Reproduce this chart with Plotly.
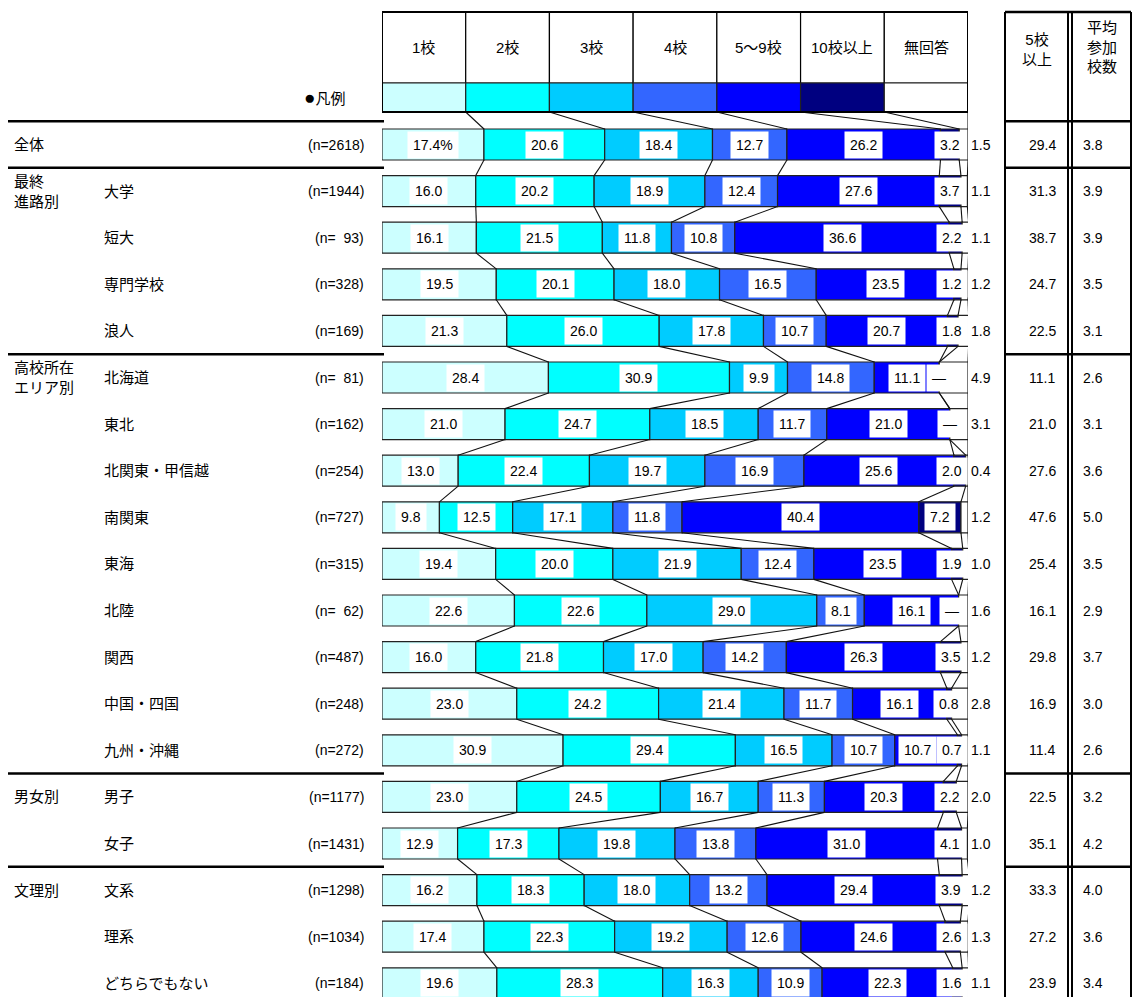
import plotly.graph_objects as go

# ---------------- data ----------------
categories = ["1校", "2校", "3校", "4校", "5～9校", "10校以上", "無回答"]
colors = ["#CCFFFF", "#00FFFF", "#00CCFF", "#3366FF", "#0000FF", "#000080", "#FFFFFF"]

sub_labels = ["", "大学", "短大", "専門学校", "浪人", "北海道", "東北", "北関東・甲信越", "南関東",
              "東海", "北陸", "関西", "中国・四国", "九州・沖縄", "男子", "女子", "文系", "理系", "どちらでもない"]
n_labels = ["(n=2618)", "(n=1944)", "(n=\u00a0\u00a093)", "(n=328)", "(n=169)", "(n=\u00a0\u00a081)", "(n=162)",
            "(n=254)", "(n=727)", "(n=315)", "(n=\u00a0\u00a062)", "(n=487)", "(n=248)", "(n=272)",
            "(n=1177)", "(n=1431)", "(n=1298)", "(n=1034)", "(n=184)"]
group_labels = ["全体", "最終<br>進路別", "高校所在<br>エリア別", "男女別", "文理別"]
group_starts = [0, 1, 5, 14, 16]

v_1 = [17.4, 16.0, 16.1, 19.5, 21.3, 28.4, 21.0, 13.0, 9.8, 19.4, 22.6, 16.0, 23.0, 30.9, 23.0, 12.9, 16.2, 17.4, 19.6]
v_2 = [20.6, 20.2, 21.5, 20.1, 26.0, 30.9, 24.7, 22.4, 12.5, 20.0, 22.6, 21.8, 24.2, 29.4, 24.5, 17.3, 18.3, 22.3, 28.3]
v_3 = [18.4, 18.9, 11.8, 18.0, 17.8, 9.9, 18.5, 19.7, 17.1, 21.9, 29.0, 17.0, 21.4, 16.5, 16.7, 19.8, 18.0, 19.2, 16.3]
v_4 = [12.7, 12.4, 10.8, 16.5, 10.7, 14.8, 11.7, 16.9, 11.8, 12.4, 8.1, 14.2, 11.7, 10.7, 11.3, 13.8, 13.2, 12.6, 10.9]
v_5_9 = [26.2, 27.6, 36.6, 23.5, 20.7, 11.1, 21.0, 25.6, 40.4, 23.5, 16.1, 26.3, 16.1, 10.7, 20.3, 31.0, 29.4, 24.6, 22.3]
v_10 = [3.2, 3.7, 2.2, 1.2, 1.8, 0.0, 0.0, 2.0, 7.2, 1.9, 0.0, 3.5, 0.8, 0.7, 2.2, 4.1, 3.9, 2.6, 1.6]
v_na = [1.5, 1.1, 1.1, 1.2, 1.8, 4.9, 3.1, 0.4, 1.2, 1.0, 1.6, 1.2, 2.8, 1.1, 2.0, 1.0, 1.2, 1.3, 1.1]
series = [v_1, v_2, v_3, v_4, v_5_9, v_10, v_na]

five_plus = [29.4, 31.3, 38.7, 24.7, 22.5, 11.1, 21.0, 27.6, 47.6, 25.4, 16.1, 29.8, 16.9, 11.4, 22.5, 35.1, 33.3, 27.2, 23.9]
avg_count = [3.8, 3.9, 3.9, 3.5, 3.1, 2.6, 3.1, 3.6, 5.0, 3.5, 2.9, 3.7, 3.0, 2.6, 3.2, 4.2, 4.0, 3.6, 3.4]

# ---------------- layout constants ----------------
W, H = 1135, 997
ROW0, PITCH = 144.5, 46.6           # pixel centre of first row, row pitch


def yi(pix):                        # pixel -> row-index coordinate
    return (pix - ROW0) / PITCH


def px(x):                          # pixel -> paper x
    return x / W


XD0, XD1 = px(382), px(968)


def xpaper(v):                      # axis value -> paper x (same mapping as the x axis)
    return XD0 + v / 100.0 * (XD1 - XD0)


BAR_W = 0.665
HEAD_TOP, HEAD_MID, HEAD_BOT = yi(12), yi(83), yi(112)
Y_BOTTOM = yi(H)
FONT = "Liberation Sans, Noto Sans CJK JP, sans-serif"
NUM = dict(size=14, color="#000")
JP = dict(size=15, color="#000")

nrows = len(sub_labels)
rows = list(range(nrows))
ncat = len(categories)

fig = go.Figure()

# header cells (text row) and legend colour row
cell = 100.0 / ncat
for k, cat in enumerate(categories):
    fig.add_trace(go.Bar(orientation="h", y=[(HEAD_TOP + HEAD_MID) / 2], x=[cell], base=[k * cell],
                         width=HEAD_MID - HEAD_TOP, marker=dict(color="white", line=dict(color="#000", width=1.2)),
                         hoverinfo="skip"))
    fig.add_trace(go.Bar(orientation="h", y=[(HEAD_MID + HEAD_BOT) / 2], x=[cell], base=[k * cell],
                         width=HEAD_BOT - HEAD_MID, marker=dict(color=colors[k], line=dict(color="#222", width=1.2)),
                         hoverinfo="skip"))

# data bars
cums = []
run = [0.0] * nrows
for k, vals in enumerate(series):
    fig.add_trace(go.Bar(orientation="h", y=rows, x=vals, base=list(run), width=BAR_W, name=categories[k],
                         marker=dict(color=colors[k], line=dict(color="#222", width=1.2))))
    run = [r + v for r, v in zip(run, vals)]
    cums.append(list(run))

# connector lines
lx, ly = [], []
for k in range(ncat):
    lx += [(k + 1) * cell, cums[k][0], None]
    ly += [HEAD_BOT, 0 - BAR_W / 2, None]
    for i in range(nrows - 1):
        lx += [cums[k][i], cums[k][i + 1], None]
        ly += [i + BAR_W / 2, i + 1 - BAR_W / 2, None]
fig.add_trace(go.Scatter(x=lx, y=ly, mode="lines", line=dict(color="#111", width=1.1), hoverinfo="skip"))

ann = []


def add(x, y, text, xref="paper", xanchor="center", font=NUM, **kw):
    ann.append(dict(x=x, y=y, xref=xref, yref="y", text=text, showarrow=False, xanchor=xanchor,
                    yanchor="middle", font=font, **kw))


# header texts
for k, cat in enumerate(categories):
    add((k + 0.5) * cell, (HEAD_TOP + HEAD_MID) / 2, cat, xref="x", font=JP)
add(px(302), (HEAD_MID + HEAD_BOT) / 2, "<span style='font-size:19px'>●</span>凡例", xanchor="left", font=JP)

# value labels
for i in rows:
    start = 0.0
    for k, vals in enumerate(series):
        v = vals[i]
        txt = "—" if v == 0 else f"{v:.1f}"
        if i == 0 and k == 0:
            txt += "%"
        if k < 4:
            add(start + v / 2, i, txt, xref="x", bgcolor="white", borderpad=5)
        elif k == 4:
            add(min(start + v / 2, 91.3), i, txt, xref="x", bgcolor="white", borderpad=5)
        elif k == 5:
            add(min(start + v / 2, 97.3), i, txt, xref="x", bgcolor="white", borderpad=5)
        else:
            add(xpaper(102.3), i, txt)
        start += v

# left labels
for g, s in zip(group_labels, group_starts):
    add(px(12), s, g, xanchor="left", font=JP, align="left")
for i in rows:
    if sub_labels[i]:
        add(px(102), i, sub_labels[i], xanchor="left", font=JP)
    add(px(366), i, n_labels[i], xanchor="right")

# right table
add(px(1037), yi(49), "5校<br>以上", font=JP)
add(px(1102), yi(47), "平均<br>参加<br>校数", font=JP)
for i in rows:
    add(px(1042), i, f"{five_plus[i]:.1f}")
    add(px(1093), i, f"{avg_count[i]:.1f}")

# chrome lines
shapes = []
seps = [s - 0.5 for s in group_starts]
for b in seps:
    shapes.append(dict(type="line", xref="paper", yref="y", x0=px(8), x1=px(384), y0=b, y1=b,
                       line=dict(color="#000", width=2.5)))
    shapes.append(dict(type="line", xref="paper", yref="y", x0=px(1005), x1=px(1131), y0=b, y1=b,
                       line=dict(color="#000", width=2.5)))
shapes.append(dict(type="line", xref="paper", yref="y", x0=px(1005), x1=px(1131), y0=HEAD_TOP, y1=HEAD_TOP,
                   line=dict(color="#000", width=2.5)))
for xv in [1005, 1068, 1072, 1131]:
    shapes.append(dict(type="line", xref="paper", yref="y", x0=px(xv), x1=px(xv), y0=HEAD_TOP, y1=Y_BOTTOM,
                       line=dict(color="#000", width=2)))
shapes.append(dict(type="rect", xref="x", yref="y", x0=0, x1=100, y0=HEAD_TOP, y1=HEAD_BOT,
                   line=dict(color="#000", width=2)))

fig.update_layout(
    width=W, height=H, margin=dict(l=0, r=0, t=0, b=0),
    paper_bgcolor="white", plot_bgcolor="white", showlegend=False, barmode="overlay",
    font=dict(family=FONT, size=14, color="#000"),
    xaxis=dict(domain=[XD0, XD1], range=[0, 100], visible=False, fixedrange=True),
    yaxis=dict(domain=[0, 1], range=[Y_BOTTOM, yi(0)], visible=False, fixedrange=True),
    annotations=ann, shapes=shapes,
)

fig.write_html("out.html", config={"displayModeBar": False},
               post_script="document.body.style.margin='0';")
